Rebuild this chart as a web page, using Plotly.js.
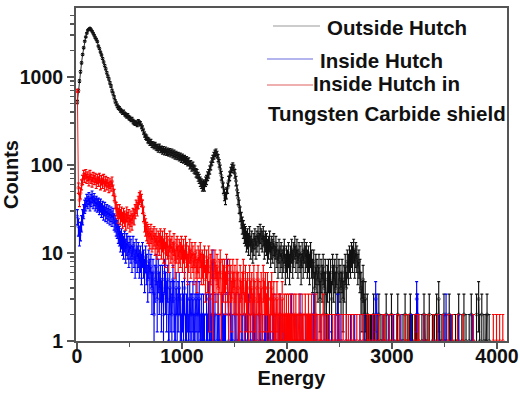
<!DOCTYPE html>
<html><head><meta charset="utf-8">
<script src="https://cdn.plot.ly/plotly-3.0.1.min.js"></script>
<style>html,body{margin:0;padding:0;background:#fff}#chart{width:520px;height:395px}</style>
</head><body><div id="chart"></div>
<script>
// Energy channel centres (10-unit channels)
const energy = [
  5,15,25,35,45,55,65,75,85,95,105,115,125,135,145,155,165,175,185,195,
  205,215,225,235,245,255,265,275,285,295,305,315,325,335,345,355,365,375,385,395,
  405,415,425,435,445,455,465,475,485,495,505,515,525,535,545,555,565,575,585,595,
  605,615,625,635,645,655,665,675,685,695,705,715,725,735,745,755,765,775,785,795,
  805,815,825,835,845,855,865,875,885,895,905,915,925,935,945,955,965,975,985,995,
  1005,1015,1025,1035,1045,1055,1065,1075,1085,1095,1105,1115,1125,1135,1145,1155,1165,1175,1185,1195,
  1205,1215,1225,1235,1245,1255,1265,1275,1285,1295,1305,1315,1325,1335,1345,1355,1365,1375,1385,1395,
  1405,1415,1425,1435,1445,1455,1465,1475,1485,1495,1505,1515,1525,1535,1545,1555,1565,1575,1585,1595,
  1605,1615,1625,1635,1645,1655,1665,1675,1685,1695,1705,1715,1725,1735,1745,1755,1765,1775,1785,1795,
  1805,1815,1825,1835,1845,1855,1865,1875,1885,1895,1905,1915,1925,1935,1945,1955,1965,1975,1985,1995,
  2005,2015,2025,2035,2045,2055,2065,2075,2085,2095,2105,2115,2125,2135,2145,2155,2165,2175,2185,2195,
  2205,2215,2225,2235,2245,2255,2265,2275,2285,2295,2305,2315,2325,2335,2345,2355,2365,2375,2385,2395,
  2405,2415,2425,2435,2445,2455,2465,2475,2485,2495,2505,2515,2525,2535,2545,2555,2565,2575,2585,2595,
  2605,2615,2625,2635,2645,2655,2665,2675,2685,2695,2705,2715,2725,2735,2745,2755,2765,2775,2785,2795,
  2805,2815,2825,2835,2845,2855,2865,2875,2885,2895,2905,2915,2925,2935,2945,2955,2965,2975,2985,2995,
  3005,3015,3025,3035,3045,3055,3065,3075,3085,3095,3105,3115,3125,3135,3145,3155,3165,3175,3185,3195,
  3205,3215,3225,3235,3245,3255,3265,3275,3285,3295,3305,3315,3325,3335,3345,3355,3365,3375,3385,3395,
  3405,3415,3425,3435,3445,3455,3465,3475,3485,3495,3505,3515,3525,3535,3545,3555,3565,3575,3585,3595,
  3605,3615,3625,3635,3645,3655,3665,3675,3685,3695,3705,3715,3725,3735,3745,3755,3765,3775,3785,3795,
  3805,3815,3825,3835,3845,3855,3865,3875,3885,3895,3905,3915,3925,3935,3945,3955,3965,3975,3985,3995,
  4005,4015,4025,4035,4045,4055,4065,4075,4085,4095
];

// Counts: Outside Hutch
const outsideHutch = [
  520,700,900,1150,1450,1800,2150,2550,2850,3150,3400,3500,3580,3450,3320,3150,2980,2800,2680,2520,
  2250,2100,1920,1780,1620,1480,1350,1240,1120,1020,950,860,790,700,650,590,530,500,470,450,
  440,420,410,395,400,380,372,360,365,345,340,328,330,312,305,298,300,290,310,300,
  295,275,262,240,222,210,205,192,188,180,182,172,170,165,168,160,158,152,160,150,
  152,145,150,142,148,140,144,138,142,135,140,132,136,128,132,126,128,122,125,118,
  122,116,118,112,114,108,110,100,102,95,98,90,88,82,80,74,70,65,62,58,
  60,58,65,68,75,80,88,98,110,118,128,136,140,132,120,105,90,76,64,55,
  46,42,48,55,66,75,85,92,96,90,80,66,52,42,34,28,24,21,19,17,
  16,14,15,13,16,12,14,11,13,15,12,14,16,13,17,15,14,16,12,14,
  13,11,12,14,10,12,11,13,9,12,10,8,11,9,10,8,9,11,7,9,
  8,10,7,9,11,8,10,12,9,11,8,10,9,7,10,8,11,9,10,8,
  9,7,10,8,6,8,4,7,6,5,7,3,6,5,7,4,6,2,5,6,
  4,6,3,7,5,6,4,7,2,6,5,4,6,3,5,7,4,8,7,9,
  8,10,9,11,8,10,9,7,8,6,4,3,5,2,3,1,2,1,null,1,
  1,null,2,1,null,null,1,2,null,1,null,1,1,null,2,null,null,1,null,2,
  null,1,null,null,1,2,null,1,null,null,1,null,2,null,1,null,1,2,null,1,
  null,null,1,2,null,1,null,null,1,null,2,1,null,1,null,2,null,null,1,null,
  1,null,2,null,3,1,null,1,null,2,null,1,null,null,2,1,null,1,null,null,
  1,null,1,2,null,null,1,null,2,null,1,null,null,1,null,2,null,1,null,null,
  2,null,3,1,null,2,null,1,null,1,2,null,1,null,null,null,null,null,null,null,
  null,null,null,null,null,null,null,null,null,null
];

// Counts: Inside Hutch
const insideHutch = [
  26,20,16,18,22,26,30,34,36,40,38,42,36,40,44,38,41,36,38,35,
  36,33,35,31,33,29,32,28,30,27,29,26,28,25,27,23,22,20,19,17,
  16,14,15,13,12,14,11,13,12,10,12,11,9,12,10,8,11,9,10,8,
  9,7,10,8,6,9,7,5,8,6,7,4,6,2,5,7,3,6,4,5,
  3,5,2,6,4,3,5,1,4,3,2,5,3,1,4,2,3,4,2,1,
  3,2,4,1,2,3,1,3,2,2,3,1,2,3,2,2,3,1,2,1,
  2,1,null,2,1,3,1,2,1,8,1,2,null,1,2,1,null,1,2,1,
  1,2,null,6,1,null,2,1,1,null,2,1,null,1,2,null,1,1,null,2,
  1,null,1,2,null,1,null,1,2,1,null,1,null,2,1,null,1,null,1,1,
  null,2,1,null,1,null,1,2,null,1,null,null,1,2,null,1,null,1,null,1,
  null,1,null,1,2,null,null,1,null,1,null,null,2,null,1,null,null,1,null,null,
  1,null,null,1,null,2,1,null,1,null,null,null,1,null,null,1,null,null,null,1,
  null,null,1,null,null,null,1,null,2,1,null,1,null,null,null,null,1,null,null,null,
  1,null,null,null,1,null,null,null,null,1,null,null,null,1,null,null,null,null,1,null,
  null,null,1,null,3,2,null,null,null,null,null,1,null,null,null,null,1,null,null,null,
  null,1,null,null,null,null,null,null,1,null,null,null,null,null,null,null,null,null,1,null,
  null,null,null,3,2,null,null,null,null,null,1,null,null,null,null,null,null,null,null,1,
  null,null,null,null,1,null,null,null,null,1,null,2,null,null,null,null,1,null,null,null,
  null,null,null,1,null,null,null,null,null,null,null,null,null,null,null,null,1,null,null,null,
  null,null,null,null,null,null,null,null,null,null,null,null,null,null,null,null,null,null,null,null,
  null,null,null,null,null,null,null,null,null,null
];

// Counts: Inside Hutch in Tungsten Carbide shield
const insideHutchWC = [
  700,55,40,48,60,68,78,72,80,70,75,66,78,70,64,74,68,72,62,70,
  65,72,60,68,62,70,58,66,60,64,56,62,58,65,52,46,38,32,30,27,
  30,26,28,24,27,25,23,28,24,26,22,25,23,27,26,30,34,32,38,42,
  44,40,34,28,22,20,18,17,16,15,17,14,15,16,13,15,12,14,13,15,
  12,14,11,15,10,13,12,9,14,11,12,10,13,8,11,12,9,11,10,12,
  9,11,8,12,10,7,9,11,8,10,9,7,10,8,6,9,8,10,7,8,
  7,9,5,8,6,9,3,7,8,2,6,8,5,7,4,6,8,2,6,5,
  6,4,7,5,2,6,5,3,6,4,5,2,6,4,1,5,3,4,6,2,
  5,3,4,1,5,3,4,2,5,3,1,4,5,2,3,4,1,5,3,4,
  2,4,3,1,3,4,2,3,1,2,3,1,2,2,1,3,1,2,1,2,
  1,2,1,2,1,1,2,1,2,1,1,2,1,1,2,1,null,2,1,1,
  2,1,1,2,1,null,1,2,null,1,null,1,1,null,2,null,1,null,1,null,
  1,null,null,1,null,1,null,null,1,null,1,null,null,1,null,null,1,null,1,null,
  null,1,null,1,null,null,1,null,null,1,null,null,1,null,null,null,1,null,1,null,
  null,1,null,null,1,null,null,1,null,null,null,1,null,1,null,null,null,1,null,null,
  1,null,null,null,1,null,null,1,null,null,null,null,1,null,null,1,null,null,null,null,
  null,1,null,null,1,1,null,null,null,null,1,null,null,null,1,null,null,null,null,1,
  null,null,null,1,null,null,null,null,1,null,null,null,null,1,null,null,null,1,null,null,
  null,null,1,null,null,null,null,1,null,null,null,null,null,null,null,null,null,1,null,null,
  null,null,null,null,null,null,null,null,null,null,null,null,null,null,null,null,1,null,null,1,
  null,null,1,null,null,1,null,null,null,null
];

const seriesNames = ['Outside Hutch', 'Inside Hutch', 'Inside Hutch in Tungsten Carbide shield'];
const seriesColors = ['#111111', '#0000ff', '#ff0000'];
const xTickVals = [0, 1000, 2000, 3000, 4000];
const xTickText = ['0', '1000', '2000', '3000', '4000'];
const yTickVals = [1, 10, 100, 1000];
const yTickText = ['1', '10', '100', '1000'];
const xMinorTicks = [500, 1500, 2500, 3500];
const yMinorTicks = [2,3,4,5,6,7,8,9,20,30,40,50,60,70,80,90,200,300,400,500,600,700,800,900,2000,3000,4000,5000];

function poissonErr(arr) { return arr.map(v => (v == null ? null : Math.sqrt(v))); }

function makeTrace(y, color, name) {
  return {
    type: 'scatter', mode: 'lines+markers', x: energy, y: y, name: name,
    showlegend: false, connectgaps: false,
    line: {color: color, width: 0.9},
    marker: {symbol: 'circle-open', size: 3, color: color, line: {width: 0.6, color: color}},
    error_y: {type: 'data', array: poissonErr(y), visible: true, color: color, thickness: 1.15, width: 1.5}
  };
}

const data = [
  makeTrace(outsideHutch, seriesColors[0], seriesNames[0]),
  makeTrace(insideHutch, seriesColors[1], seriesNames[1]),
  makeTrace(insideHutchWC, seriesColors[2], seriesNames[2])
];

const F = '"Liberation Sans", Arial, Helvetica, sans-serif';
const axisCol = '#555';

function px2x(px) { return (px - 76) / 431; }
function py2y(py) { return (341 - py) / 333; }

const legendLines = [
  {x0: 273, x1: 320, y: 26, c: '#9a9a9a'},
  {x0: 267, x1: 313, y: 59, c: '#6a6ae0'},
  {x0: 267, x1: 313, y: 85, c: '#e06060'}
];
const legendTexts = [
  {t: 'Outside Hutch', x: 325, y: 27},
  {t: 'Inside Hutch', x: 318, y: 60},
  {t: 'Inside Hutch in', x: 311, y: 84},
  {t: 'Tungsten Carbide shield', x: 266, y: 113}
];

const layout = {
  width: 520, height: 395,
  margin: {l: 76, r: 13, t: 8, b: 54},
  paper_bgcolor: '#ffffff', plot_bgcolor: '#ffffff',
  font: {family: F, color: '#111111'},
  showlegend: false,
  xaxis: {
    range: [-8, 4095], tickmode: 'array', tickvals: xTickVals, ticktext: xTickText,
    ticks: 'outside', ticklen: 6, tickwidth: 1.5, tickcolor: axisCol,
    showline: true, linewidth: 2, linecolor: axisCol, mirror: true,
    showgrid: false, zeroline: false, ticklabelstandoff: -9,
    tickfont: {family: F, size: 19.5, weight: 700, color: '#111'},
    title: {text: 'Energy', font: {family: F, size: 20, weight: 700, color: '#111'}, standoff: 4},
    minor: {tickmode: 'array', tickvals: xMinorTicks, ticks: 'outside', ticklen: 4, tickwidth: 1.2, tickcolor: axisCol, showgrid: false}
  },
  yaxis: {
    type: 'log', range: [0, 3.784], tickmode: 'array', tickvals: yTickVals, ticktext: yTickText,
    ticks: 'outside', ticklen: 7, tickwidth: 1.5, tickcolor: axisCol,
    showline: true, linewidth: 2, linecolor: axisCol, mirror: true,
    showgrid: false, zeroline: false,
    tickfont: {family: F, size: 19.5, weight: 700, color: '#111'},
    title: {text: 'Counts', font: {family: F, size: 20, weight: 700, color: '#111'}, standoff: 1},
    minor: {tickmode: 'array', tickvals: yMinorTicks, ticks: 'outside', ticklen: 4, tickwidth: 1.2, tickcolor: axisCol, showgrid: false}
  },
  shapes: legendLines.map(l => ({
    type: 'line', xref: 'paper', yref: 'paper',
    x0: px2x(l.x0), x1: px2x(l.x1), y0: py2y(l.y), y1: py2y(l.y),
    line: {color: l.c, width: 1.2}
  })),
  annotations: legendTexts.map(a => ({
    xref: 'paper', yref: 'paper', x: px2x(a.x), y: py2y(a.y),
    xanchor: 'left', yanchor: 'middle', showarrow: false, text: a.t,
    font: {family: F, size: 20.5, weight: 700, color: '#111'}
  }))
};

Plotly.newPlot('chart', data, layout, {displayModeBar: false, staticPlot: true});
</script>
</body></html>
